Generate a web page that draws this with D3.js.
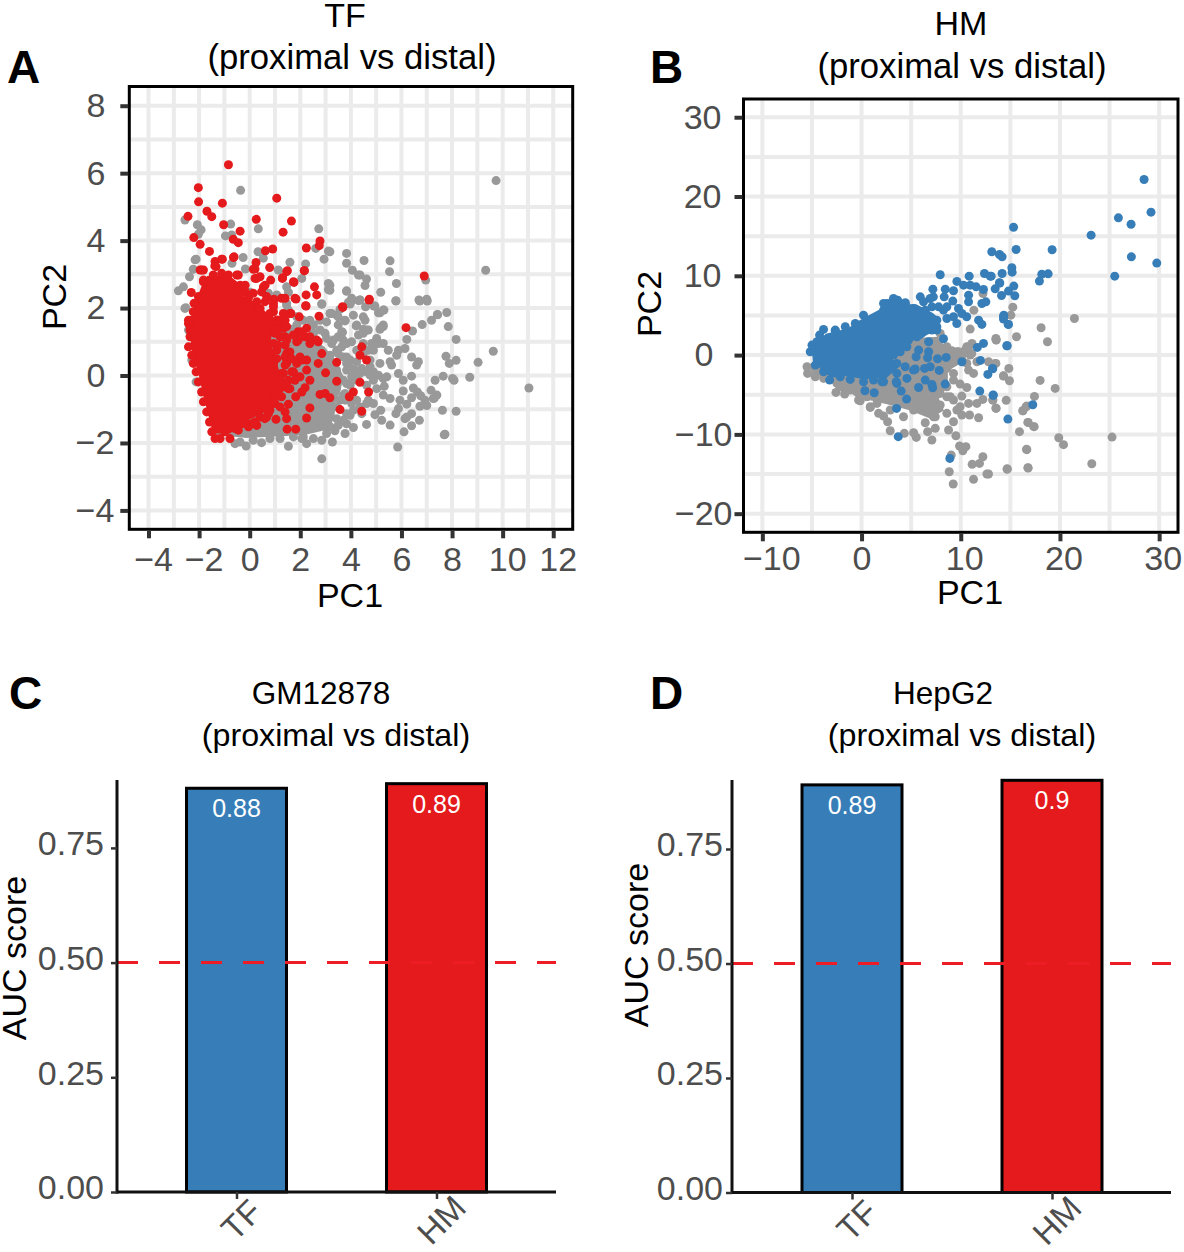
<!DOCTYPE html>
<html><head><meta charset="utf-8">
<script src="https://cdn.jsdelivr.net/npm/d3@7/dist/d3.min.js"></script>
<style>html,body{margin:0;padding:0;background:#fff}svg{display:block}text{font-family:"Liberation Sans",Arial,sans-serif}</style>
</head><body><svg id="c" width="1184" height="1252"></svg>
<script>
// Values. The *Core arrays outline the saturated regions where single points cannot be told apart.
const categories=["TF","HM"];
const gm12878Auc=[0.88,0.89];
const hepg2Auc=[0.89,0.9];
const tfXTicks=[-4,-2,0,2,4,6,8,10,12];
const tfYTicks=[-4,-2,0,2,4,6,8];
const hmXTicks=[-10,0,10,20,30];
const hmYTicks=[-20,-10,0,10,20,30];
const aucTicks=[0,0.25,0.5,0.75];

const tfRedCore=[[-1.69,2.95],[-.78,2.95],[-.36,2.7],[-.21,2.34],[.33,2.12],[.7,1.84],[.98,1.5],[.8,.96],[1.02,.6],[1.2,.01],[1.15,-.5],[.7,-1.05],[-.05,-1.32],[-.78,-1.72],[-1.45,-1.72],[-1.82,-.64],[-2.03,.07],[-2.33,.84],[-2.33,1.55],[-2.22,2.03],[-1.85,2.75]];
const tfGrayCore=[[-1.44,-1.75],[-.12,-1.85],[1.33,-1.8],[2.25,-1.75],[3.1,-1.6],[3.35,-1.25],[3.4,-.8],[3.6,-.44],[3.7,0],[3.35,.5],[2.95,.85],[2.3,1.2],[1.7,1.5],[.8,1.6],[-1.17,1.6],[-1.17,-.73]];
const tfRed=[[-.84,6.25],[-2.03,5.57],[-2.02,5.15],[-1.08,5.11],[1.07,5.26],[-1.69,4.87],[-1.5,4.71],[-2.44,4.72],[.26,4.63],[1.65,4.58],[-1.03,4.47],[-.38,4.28],[1.32,4.25],[-2.21,4.09],[-.65,4.04],[-.45,3.94],[-1.96,3.89],[2.78,3.99],[2.75,3.85],[2.24,3.78],[.62,3.7],[.91,3.75],[-1.59,3.68],[-.62,3.52],[-1.08,3.45],[-1.37,3.38],[-1.38,3.25],[.25,3.35],[.21,3.16],[.79,3.2],[-1.96,3.13],[1.46,3.08],[2.16,3.11],[1.29,2.88],[.21,2.88],[.41,2.93],[.83,2.83],[1.73,2.78],[2.56,2.63],[2.65,2.39],[2.23,2.39],[1.83,2.27],[1.26,2.29],[.94,2.24],[2.23,2.06],[3.68,2.02],[-2.31,2.46],[.54,2.63],[.47,2.48],[-.51,2.98],
[.14,3.15],[1.49,3.11],[1.3,2.9],[2.16,3.11],[1.75,2.76],[.61,2.68],[.28,2.88],[.96,2.26],[-1.83,3.13],[-1.11,3.45],[-.64,3.5],[-1.33,3.23],[-.38,2.68],[-.45,2.98],[-.91,2.93],[-1.44,2.93],[-1.83,2.78],[1.07,1.45],[1.09,1.64],
[6.18,1.42],[4.72,2.24],[2.21,2.07],[1.63,1.84],[1.96,1.74],[2.74,1.76],[2.25,1.4],[1.92,1.3],[1.4,1.15],[2.19,1.15],[2.71,1],[2.38,.95],[1.92,1.05],[4.43,.85],[4.36,.6],[4.62,.46],[3.44,.39],[2.85,.65],[2.71,.36],[3,.08],[2.25,.46],[1.59,.7],[1.86,.36],[2.25,.16],[1.99,-.04],[2.38,-.14],[3.44,-.17],[4.36,-.2],[2.19,-.36],[2.06,-.49],[1.82,-.63],[4.1,-.49],[3.94,-.63],[4.7,-.49],[2.78,-.56],[2.98,-.53],[3.17,-.66],[1.53,-.85],[1.4,-1.08],[1.46,-1.28],[2.38,-.96],[2.25,-1.26],[3.57,-1.01],[4.43,-1.06],[1.04,-1.3],[1.48,-1.59],[1.82,-1.59],[-1.37,-1.87],[-1.17,-1.87],[-.78,-1.87],[.28,-1.48],[-.12,-1.43],[.67,-1.23],[.94,-.73],[1.2,-.39],[1.53,-.39],[1.26,.06],[1.07,.5],[1.2,1.64],[.94,1.89],[.94,2.13],[1.2,1.4],[.94,.95],[1.46,.65],[1.73,.11],
[6.9,2.95],[4.73,2.26],[3.67,2.04],
[-1.9,3.13],[-1.83,2.83],[-1.44,2.98],[-1.11,3.03],[-.84,2.98],[-.18,2.68],[-.18,2.49],[-1.04,2.63],[-1.57,2.58],[-1.77,2.44],[-2.03,2.34],[-2.2,2.14],[-2.29,1.64],[-2.42,1.54],[-2.36,1.35],[-2.23,1.89],[.14,2.44],[.28,2.19],[.61,2.19],[.41,1.99],[.8,1.84],[1.07,1.64],[1.2,1.54],[.94,1.35],[1.26,1.62],
[-2.42,1.64],[-2.29,1.35],[-2.36,1.15],[-2.42,.85],[-2.29,.6],[-2.23,.36],[-2.12,.11],[-2.03,-.19],[-1.9,-.49],[-1.83,-.78],[-1.7,-1.08],[-1.59,-1.38],[-1.5,-1.67],[-.98,-1.67],[-.58,-1.57],[-.32,-1.43],[.08,-1.43],[.41,-1.23],[.74,-1.13],[.87,-.83],[1.13,-.58],[1.46,-.34],[1.53,-.14],[1.33,.06],[1.46,.36],[1.53,.65],[1.4,.9],[1.07,.75],[1.2,1.15],[1.33,1.4],[1.13,1.64],[1,1.25],[1.86,1],[1.86,-.04],[.94,.36],[.8,.01],[1.07,-.24],[.67,-.63],[.28,-.93],[-.12,-1.18],
[1.4,.55],[1.66,.5],[1.99,.55],[1.4,.31],[1.66,.11],[2.06,.46],[1.2,-.14],[1.4,-.24],[1.79,-.14],[1.59,-.39],[1.26,-.63],[1,-.83],[.8,-1.03],[1.2,-.93],[.6,-1.28],[.21,-1.38],[-.05,-1.52],[-.45,-1.62],[1.13,.9],[1.46,1.05],[1.73,1.2],[2.06,1.3],[2.38,1.15],[2.65,1.05],[.8,1.64],[1.4,1.64],[-.05,2.29],[.01,2.09],[.67,2.34],[.94,2.04],[1.33,1.84],[1.46,1.45],[1.59,1.84],[-.38,2.39],[1.4,2.29],[1.79,2.29]];
const tfGray=[[-2.56,1.99],[-2.42,1.35],[-2.29,.46],[-2.12,-.19],[2.85,2.12],[3.97,2.14],[4.36,2.24],[4.91,2.06],[5.28,1.94],[5.09,1.86],[5.78,2.21],[6.73,2.21],[7.02,2.21],[7.42,1.81],[7.79,1.87],[7.19,1.64],[6.82,1.51],[7.85,1.45],[6.44,1.32],[6.21,1.07],[8.16,1.07],[5.28,1.45],[5.15,1.37],[3.18,1.84],[3.44,1.79],[3.77,1.64],[4.1,1.79],[4.49,1.74],[4.23,1.5],[4.62,1.35],[4.49,1.25],[4.3,1.2],[3.64,1.3],[2.98,1.25],[3.04,1.59],[1.86,1.5],[1.66,1.35],[1.46,2.09],[5.02,1.1],[5.09,.95],[5.28,.95],[4.89,.75],[4.69,.75],[5.48,.75],[5.88,.75],[6.14,.8],[5.81,.6],[6.4,.55],[6.67,.41],[6.6,.31],[5.55,.41],[5.61,.31],[5.15,.36],[4.76,.26],[4.89,.11],[5.09,.01],[5.42,-.04],[5.88,.06],[6.4,-.02],[6.07,-.14],[5.32,-.32],[6.07,-.46],[6.47,-.37],[6.63,-.49],[6.4,-.66],[6.76,-.6],[7.17,-.44],[7.26,-.68],[5.94,-.73],[6.21,-.85],[6.73,-.91],[7,-.89],[5.88,-.98],[5.78,-1.13],[6.21,-1.23],[6.4,-1.13],[6.14,-1.28],[6.71,-1.33],[6.4,-1.49],[6.1,-1.67],[5.55,-1.47],[5.22,-1.33],[4.95,-1.16],[5.18,-1.03],[4.62,-1.45],[4.1,-1.54],[3.77,-1.72],[3.37,-1.64],[3.27,-1.97],[2.85,-2.47],[5.85,-2.12],[7.69,-1.76],[7.62,-1.03],[8.16,-1.06],[7.65,-.02],[8.02,-.09],[8.08,-.14],[7.89,.36],[7.76,.57],[4.62,-.83],[4.36,-.93],[4.23,-.73],[3.83,-1.43],[3.7,-1.33],[3.97,-1.18],[4.1,-1.03],[5.28,-.58],[5.55,-.68],[4.76,.01],[4.23,.11],[3.97,.46],[3.83,.55],[3.83,.36],[3.64,.85],[3.31,1.05],[3.83,.95],[4.36,.06],[1.53,-2.1],[2.25,-2.02],[-.14,-2.09],[.47,-1.99],[-.58,-2.02],[2.85,-1.92],[2.12,-1.82],[3.7,-.58],[5.28,-.09],
[9.74,5.78],[9.33,3.12],[6.96,2.83],[7,2.26],[6.69,2.24],[7.43,1.8],[5.8,2.73],[5.78,2.22],[5.55,3.4],[5.53,3.08],[4.52,3.41],[3.83,3.62],[3.83,3.33],[4.06,3.12],[4.36,2.98],[4.62,2.86],[4.56,2.67],[5.18,2.47],[3.83,2.5],[4.03,2.29],[3.9,2.17],[4.36,2.24],[4.58,2.04],[4.95,2.06],[5.15,1.86],[5.31,1.94],[3.17,3.67],[3.17,2.68],[3.17,2.53],[3.24,1.84],[3.57,1.96],[3.5,1.74],[3.77,1.62],[4.21,1.47],[4.56,1.64],[3.5,1.5],[3.67,1.28],[5.28,1.5],[5.18,1.42],[4.49,1.37],[4.69,1.35],
[11.04,-.37],[9.63,.72],[9.03,.39],[8.7,-.05],[7.72,-1.74],[8.16,.45],[7.4,-.58],[7.3,-.67],[7.33,-.14],[6.93,-.73],
[-.36,5.49],[-2.56,4.61],[-2.07,4.47],[-1.92,4.32],[-2.03,4.19],[-.75,4.49],[-.96,4.14],[-.71,4.17],[.34,4.35],[2.73,4.35],[2.61,3.77],[3.11,3.69],[2.94,3.45],[4.3,2.98],[.33,3.67],[-.26,3.5],[.54,3.48],[-2.12,3.45],[-2.23,3.15],[-.7,3.33],[-.17,3.16],[1.59,3.36],[2.21,3.31],[1.13,3.13],[-2.38,2.93],[-2.62,2.63],[-2.82,2.51],[3.11,2.73],[3.11,2.55],[3.83,2.51],[2.85,2.12],[1.46,2.63],[1.53,2.47],[2.06,2.88],[1.07,2.39],[.74,2.44],[.01,2.47],[1.46,2.14],[-2.53,2.01],[4.03,2.24],[3.97,2.12],[4.3,2.22],[3.18,1.84],[-2.16,3.43],
[-.38,-1.97],[.14,-1.92],[.8,-1.87],[1.2,-1.87],[1.73,-1.82],[2.06,-1.87],[2.52,-1.87],[3.04,-1.72],[3.18,-1.52],[3.44,-1.28],[3.44,-.93],[3.57,-.73],[3.77,-.53],[3.83,-.24],[4.03,-.04],[4.16,.16],[3.7,.55],[3.44,.75],[3.24,.95],[3.04,1.1],[2.78,1.35],[2.52,1.5],[2.12,1.64],[1.86,1.74],[1.53,1.94],
[3.7,1.05],[4.03,1],[3.5,1.15],[4.23,.75],[4.49,.95],[4.82,.95],[4.49,.65],[4.76,.46],[4.23,.41],[4.03,.21],[4.43,.21],[4.62,.11],[4.89,-.14],[4.62,-.29],[5.02,-.39],[4.69,-.73],[4.89,-.83],[4.43,-1.13],[3.7,-.14],[3.97,-.29],[4.23,-.14],[3.77,-.73],[4.03,-.83],[3.83,-1.13],[3.5,-1.48],[3.04,-1.38],[3.83,.16],[3.44,.16],[3.18,.6],[3.5,.65],[2.52,1.25],[2.38,1.64],[2.78,1.64]];

const hmBlueCore=[[-5,.42],[-4.8,1.5],[-4.1,2.1],[-3.6,2.7],[-1.4,3.35],[-.3,4.3],[.4,4.8],[2.2,6],[3.5,6.8],[4.5,6.4],[5.5,6.4],[6.8,5.6],[7.7,4.8],[7.3,3.2],[6.1,2.1],[4.8,1.7],[4.2,.95],[2.9,0],[3.7,-1.6],[2.5,-2.9],[.2,-3.05],[-1.47,-2.65],[-3.1,-2.85],[-4.1,-1.75],[-4.9,-.8]];
const hmGrayCore=[[-3.82,.21],[-5.3,-1.26],[-5,-2.3],[-2.7,-3.3],[-.4,-5.4],[1.2,-5.8],[3.2,-6.4],[4.9,-7],[6.9,-8],[8.3,-7],[7.8,-5.5],[8.7,-3.9],[8.7,-2],[10.6,-.6],[10.3,.4],[8.8,.4],[7.7,2.3],[4.6,2.1]];
const hmBlue=[[28.48,22.14],[29.18,18.03],[25.89,17.31],[27.17,16.51],[23.14,15.13],[15.32,16.13],[15.58,13.32],[19.21,13.28],[27.2,12.39],[29.76,11.6],[13.13,13.03],[13.9,12.69],[14.17,12.39],[15.15,11.01],[15.18,10.46],[14.17,10.29],[13.07,9.96],[18.17,10.21],[18.81,10.25],[17.93,9.33],[25.52,9.96],[13.94,9.08],[13.47,8.36],[15.35,8.7],[14.81,8.07],[14.11,7.52],[15.45,7.48],[14.34,5.04],[14.31,4.54],[14.78,3.87],[14.68,1.18],[13.23,-1.72],[13.27,-5.08],[17.26,-6.26],[14.75,-8.07],
[7.93,10.13],[10.85,9.96],[12.39,10.29],[12.97,9.96],[9.61,9.29],[10.28,8.82],[10.95,8.82],[11.55,8.61],[12.29,8.28],[13.9,9.12],[7.19,8.32],[8.44,8.32],[9.27,8.11],[8.33,7.35],[7.24,7.35],[6.92,7.14],[9.2,6.81],[10.79,7.56],[10.79,6.72],[12.13,6.51],[12.53,6.72],[5.92,7.35],[5.24,5.88],[6.42,5.67],[8.26,5.67],[9.77,5.88],[10.11,5.25],[10.6,4.83],[9.27,4.83],[8.6,4.62],[14.31,4.83],[14.81,3.87],[11.8,4.41],[12.13,3.87],[9.6,3.99],[7.59,3.57],[8.26,2.06],[6.76,1.68],[12.29,1.47],[11.67,.97],[14.64,1.18],[6.76,.42],[5.75,.63],[5.5,-.21],[6.66,-.34],[7.66,-.46],[8.53,-.29],[10.11,-.84],[11.99,-.67],[13.2,-1.68],[12.73,-2.44],[7.83,-1.93],[6.92,-1.47],[6.35,-1.68],[5.41,-1.76],[6.42,-3.15],[7.09,-3.7],[7.17,-4.12],[5.75,-4.08],[8.43,-3.66],[11.92,-4.54],[13.27,-5.04],[4,-4.54],[4.54,-5.55],[3.53,-6.72],[1.28,-4.75],[.34,-4.5],[3.7,-10.29],[8.9,-13.03],[4.57,-2.94],[3.56,-3.57],[2.22,-3.36],[4.4,-1.47],[3.56,-2.31],[.2,-3.36],[-1.14,-3.07],[-3.22,-3.15],[-3.83,3.24],[-2.65,3.07],[.2,5.04],[2.56,6.51],[3.64,6.93],[4.41,6.6],[-5.17,.42],
[-5,1.26],[-4.5,1.68],[-4.23,2.52],[-2.65,3.15],[-1.64,3.57],[-.63,3.99],[.88,4.41],[2.22,5.67],[4.4,6.51],[-4.66,-1.26],[-3.82,-2.1],[-2.15,-2.73],[1.21,-3.15],[2.05,-3.36],[3.5,-3.36],[5.24,-1.89],[5.91,5.04],[6.92,3.99],[7.59,3.15],[6.58,3.15],[5.58,2.31],[4.74,1.89],[4.57,1.05],[3.9,.42],[3.22,0],[3.56,-1.05],
[7.59,4.41],[6.92,4.83],[6.25,4.41],[5.75,3.57],[5.24,2.94],[4.74,2.73],[7.09,6.09],[7.77,6.09],[8.6,6.09],[6.25,6.72],[4.91,5.46],[5.75,5.46],[2.89,6.51],[3.22,7.14],[2.22,6.51],[5.41,4.83],[6.58,3.78],[7.09,3.15]];
const hmGray=[[15.25,6.05],[15.05,5.04],[21.46,4.62],[18.1,3.45],[15.62,2.31],[13.54,2.1],[18.74,1.68],[13.57,1.93],[13.54,-1.05],[14.85,-1.68],[14.31,-2.65],[14.91,-3.24],[18,-3.19],[19.52,-4.2],[13.23,-5.67],[14.58,-5.71],[17.43,-5.21],[13.54,-6.68],[16.59,-6.51],[16.26,-7.02],[16.79,-8.49],[17.36,-9.03],[15.92,-9.66],[19.88,-10.42],[20.36,-11.3],[25.25,-10.34],[16.66,-11.93],[16.79,-14.24],[14.68,-14.41],[23.21,-13.7],[12.8,-15],
[10.95,3.28],[13.57,1.89],[11.32,5.67],[12.24,7.77],[11.13,1.47],[10.45,.63],[9.77,.42],[9.1,.55],[10.95,0],[11.63,-.84],[12.8,-.84],[13.47,-1.05],[14.31,-2.6],[10.79,-1.89],[11.29,-2.31],[9.27,-2.31],[9.94,-3.66],[10.61,-4.08],[10.11,-5.17],[12.23,-5.59],[11.63,-6.09],[10.79,-6.09],[13.24,-5.67],[13.57,-6.72],[11.8,-7.9],[10.89,-7.56],[10.11,-7.56],[9.61,-6.93],[7.93,-6.3],[8.6,-7.35],[9.27,-8.4],[8.77,-9.45],[9.51,-10.17],[7.43,-9.24],[6.66,-9.66],[6.42,-8.53],[7.26,-7.77],[7.09,-10.71],[5.52,-10.38],[5.25,-9.79],[4.31,-9.87],[2.89,-9.54],[2.63,-8.4],[2.22,-7.69],[4.23,-7.77],[.88,-6.6],[-.13,-5.76],[-1.7,-4.92],[-2.58,-4.71],[9.88,-11.47],[10.52,-11.55],[10.21,-12.06],[9.04,-12.61],[12.23,-12.82],[11.89,-13.66],[11.15,-13.78],[8.84,-14.71],[12.64,-15],[11.29,-15.67],[9.24,-16.26],[14.68,-14.33],[16.77,-14.2],[16.63,-11.89],[16.77,-8.49],[17.4,-9.03],[16.26,-7.02],[16.66,-6.43],
[-5.5,-1.47],[-5.44,-2.31],[-4.66,-2.73],[-3.82,-2.94],[-2.48,-3.57],[-1.64,-4.41],[-.3,-5.67],[.88,-6.51],[2.89,-6.93],[5.25,-6.93],[7.43,-7.77],[8.94,-5.25],[8.6,-3.99],[9.27,-3.15],[10.61,-1.05],[11.11,.21],[10.61,1.05],[9.61,.42],[8.6,1.05],[7.93,2.73],
[8.6,-5.25],[7.26,-5.67],[6.58,-6.51],[5.58,-6.09],[5.25,-4.83],[7.93,-4.83],[9.27,-5.67],[9.94,-6.51],[7.93,-1.89],[8.6,-1.68],[9.27,-.63],[9.94,-.21],[10.28,.21],[10.79,1.05],[8.94,0],[2.89,-5.67],[3.56,-6.09],[1.55,-6.09],[.54,-5.25],[-1.14,-4.41],[-2.15,-3.99],[1.72,-7.35]];

const GRAY="#999999",RED="#e41a1c",BLUE="#377eb8",TICK="#4d4d4d";
const svg=d3.select("#c");
function styleAxis(g,sz,fs){
  g.select(".domain").remove();
  g.selectAll(".tick line").attr("stroke","#333").attr("stroke-width",sz);
  g.selectAll(".tick text").attr("fill",TICK).attr("font-size",fs).attr("font-family",'"Liberation Sans"');
}
function text(s,x,y,size,o={}){
  const t=svg.append("text").attr("x",x).attr("y",y).attr("font-size",size).attr("text-anchor",o.anchor||"middle").attr("fill",o.fill||"#000").text(s);
  if(o.weight)t.attr("font-weight",o.weight);
  if(o.rot!==undefined)t.attr("transform",`rotate(${o.rot} ${x} ${y})`);
  if(o.base)t.attr("dominant-baseline",o.base);
  return t;
}
function scatter(c){
  const x=d3.scaleLinear().domain(c.xd).range([c.l,c.r]);
  const y=d3.scaleLinear().domain(c.yd).range([c.b,c.t]);
  const g=svg.append("g");
  g.selectAll(".gv").data(d3.range(c.xg[0],c.xg[1]+.01,c.xg[2])).join("line").attr("x1",d=>x(d)).attr("x2",d=>x(d)).attr("y1",c.t).attr("y2",c.b).attr("stroke","#ebebeb").attr("stroke-width",4);
  g.selectAll(".gh").data(d3.range(c.yg[0],c.yg[1]+.01,c.yg[2])).join("line").attr("y1",d=>y(d)).attr("y2",d=>y(d)).attr("x1",c.l).attr("x2",c.r).attr("stroke","#ebebeb").attr("stroke-width",4);
  const outline=d3.line().x(d=>x(d[0])).y(d=>y(d[1])).curve(d3.curveLinearClosed);
  const layer=(core,pts,col)=>{
    g.append("path").attr("d",outline(core)).attr("fill",col);
    g.append("g").selectAll("circle").data(pts).join("circle").attr("cx",d=>x(d[0])).attr("cy",d=>y(d[1])).attr("r",4.5).attr("fill",col);
  };
  layer(c.grayCore,c.gray,GRAY);
  layer(c.colCore,c.col,c.color);
  g.append("rect").attr("x",c.l).attr("y",c.t).attr("width",c.r-c.l).attr("height",c.b-c.t).attr("fill","none").attr("stroke","#000").attr("stroke-width",3);
  const ax=svg.append("g").attr("transform",`translate(0,${c.b+1})`).call(d3.axisBottom(x).tickValues(c.xt).tickSize(8).tickSizeOuter(0).tickPadding(c.xpad).tickFormat(d3.format("d")));
  styleAxis(ax,4,34);
  ax.selectAll(".tick text").attr("dx",c.xdx);
  const ay=svg.append("g").attr("transform",`translate(${c.l-1},0)`).call(d3.axisLeft(y).tickValues(c.yt).tickSize(8).tickSizeOuter(0).tickPadding(13).tickFormat(d3.format("d")));
  styleAxis(ay,4,34);
  ay.selectAll(".tick text").attr("dx",c.ydx);
}
scatter({l:129.3,r:572.7,t:86.5,b:529.3,xd:[-4.76,12.77],yd:[-4.56,8.57],xg:[-4,12,1],yg:[-4,8,1],xt:tfXTicks,yt:tfYTicks,xpad:9,
  xdx:d=>(d<0||d>=10)?4.5:0, ydx:d=>d<0?7:-2,
  gray:tfGray,grayCore:tfGrayCore,col:tfRed,colCore:tfRedCore,color:RED});
scatter({l:743.5,r:1178,t:99,b:532.3,xd:[-11.9,31.9],yd:[-22.35,32.3],xg:[-10,30,5],yg:[-20,30,5],xt:hmXTicks,yt:hmYTicks,xpad:5,
  xdx:d=>d<0?9:(d>0?3.5:0), ydx:d=>d<0?11:(d===0?-8:0),
  gray:hmGray,grayCore:hmGrayCore,col:hmBlue,colCore:hmBlueCore,color:BLUE});

function bars(c){
  const x=d3.scalePoint().domain(categories).range([c.cx0,c.cx1]);
  const y=d3.scaleLinear().domain([0,1]).range([c.y0,c.y0-c.h]);
  const w=c.bw;
  svg.append("g").selectAll("rect").data(c.vals).join("rect").attr("x",(d,i)=>x(categories[i])-w/2).attr("y",d=>y(d)).attr("width",w).attr("height",d=>y(0)-y(d)).attr("fill",(d,i)=>i?RED:BLUE).attr("stroke","#000").attr("stroke-width",3);
  svg.append("line").attr("x1",c.l).attr("x2",c.r).attr("y1",y(.5)).attr("y2",y(.5)).attr("stroke","#ee1c25").attr("stroke-width",3).attr("stroke-dasharray","21 21");
  svg.append("line").attr("x1",c.l).attr("x2",c.l).attr("y1",c.top).attr("y2",y(0)+1.5).attr("stroke","#111").attr("stroke-width",3);
  svg.append("line").attr("x1",c.l-1).attr("x2",c.r).attr("y1",y(0)).attr("y2",y(0)).attr("stroke","#111").attr("stroke-width",3);
  const ay=svg.append("g").attr("transform",`translate(${c.l},0)`).call(d3.axisLeft(y).tickValues(aucTicks).tickSize(6).tickSizeOuter(0).tickPadding(c.pad).tickFormat(d3.format(".2f")));
  styleAxis(ay,2.5,34);
  ay.selectAll(".tick text").attr("y",-4).attr("dy","0.32em");
  const ax=svg.append("g").attr("transform",`translate(0,${y(0)})`).call(d3.axisBottom(x).tickSize(7).tickSizeOuter(0).tickFormat(""));
  ax.select(".domain").remove();ax.selectAll(".tick line").attr("stroke","#333").attr("stroke-width",2.5);
  categories.forEach((k,i)=>{
    text(k,x(k)+5,y(0)+28,33.5,{fill:TICK,rot:-45,base:"central"});
    const v=c.vals[i];
    text(String(v),x(k),y(v)+29,25,{fill:"#fff"});
  });
}
bars({l:117,r:556,top:780,y0:1192,h:458.8,cx0:236.5,cx1:436.5,bw:100,pad:7,vals:gm12878Auc});
bars({l:732,r:1171,top:780,y0:1192.5,h:458,cx0:852,cx1:1052,bw:100,pad:3,vals:hepg2Auc});

text("TF",345,27,34);text("(proximal vs distal)",352,69,34.7);
text("HM",961,35,34);text("(proximal vs distal)",962,77.5,34.7);
text("GM12878",321,704,31.5);text("(proximal vs distal)",336,746,32.2);
text("HepG2",943,704,31.5);text("(proximal vs distal)",962,746,32.2);
text("PC1",350,607,34);text("PC1",970,604,34);
text("PC2",66,297,34,{rot:-90});text("PC2",661,304,34,{rot:-90});
text("AUC score",26,958,34,{rot:-90});text("AUC score",648,945,34,{rot:-90});
text("A",7,83,46,{anchor:"start",weight:"bold"});text("B",650,83,46,{anchor:"start",weight:"bold"});
text("C",9,709,46,{anchor:"start",weight:"bold"});text("D",650,709,46,{anchor:"start",weight:"bold"});
</script></body></html>
